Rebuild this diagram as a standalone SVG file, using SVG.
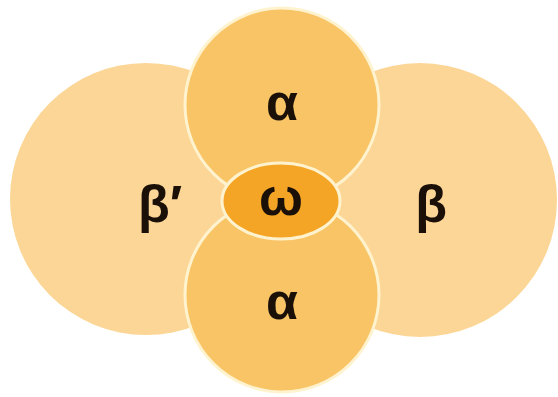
<svg xmlns="http://www.w3.org/2000/svg" width="558" height="397" viewBox="0 0 558 397">
<style>
.big{fill:#FCD696;}
.mid{fill:#F8C465;stroke:#FFF3CF;stroke-width:3;}
.core{fill:#F4A526;stroke:#FFF3CF;stroke-width:3;}
.lbl{font-family:"Liberation Sans","Open Sans",sans-serif;font-weight:bold;font-size:52px;fill:#1a1008;text-anchor:middle;}
</style>
<rect width="558" height="397" fill="#ffffff"/>
<g id="beta-prime">
<circle class="big" cx="146" cy="199" r="136"/>
</g>
<g id="beta">
<circle class="big" cx="420" cy="200" r="137"/>
</g>
<g id="alpha-top">
<circle class="mid" cx="282" cy="105" r="97"/>
</g>
<g id="alpha-bottom">
<circle class="mid" cx="282" cy="295" r="97"/>
</g>
<g id="omega">
<ellipse class="core" cx="281" cy="201" rx="59" ry="38"/>
</g>
<g id="labels">
<text class="lbl" x="282" y="120">α</text>
<text class="lbl" x="282" y="319">α</text>
<text class="lbl" x="281" y="215">ω</text>
<text class="lbl" x="160" y="222">β′</text>
<text class="lbl" x="431" y="222">β</text>
</g>
</svg>
